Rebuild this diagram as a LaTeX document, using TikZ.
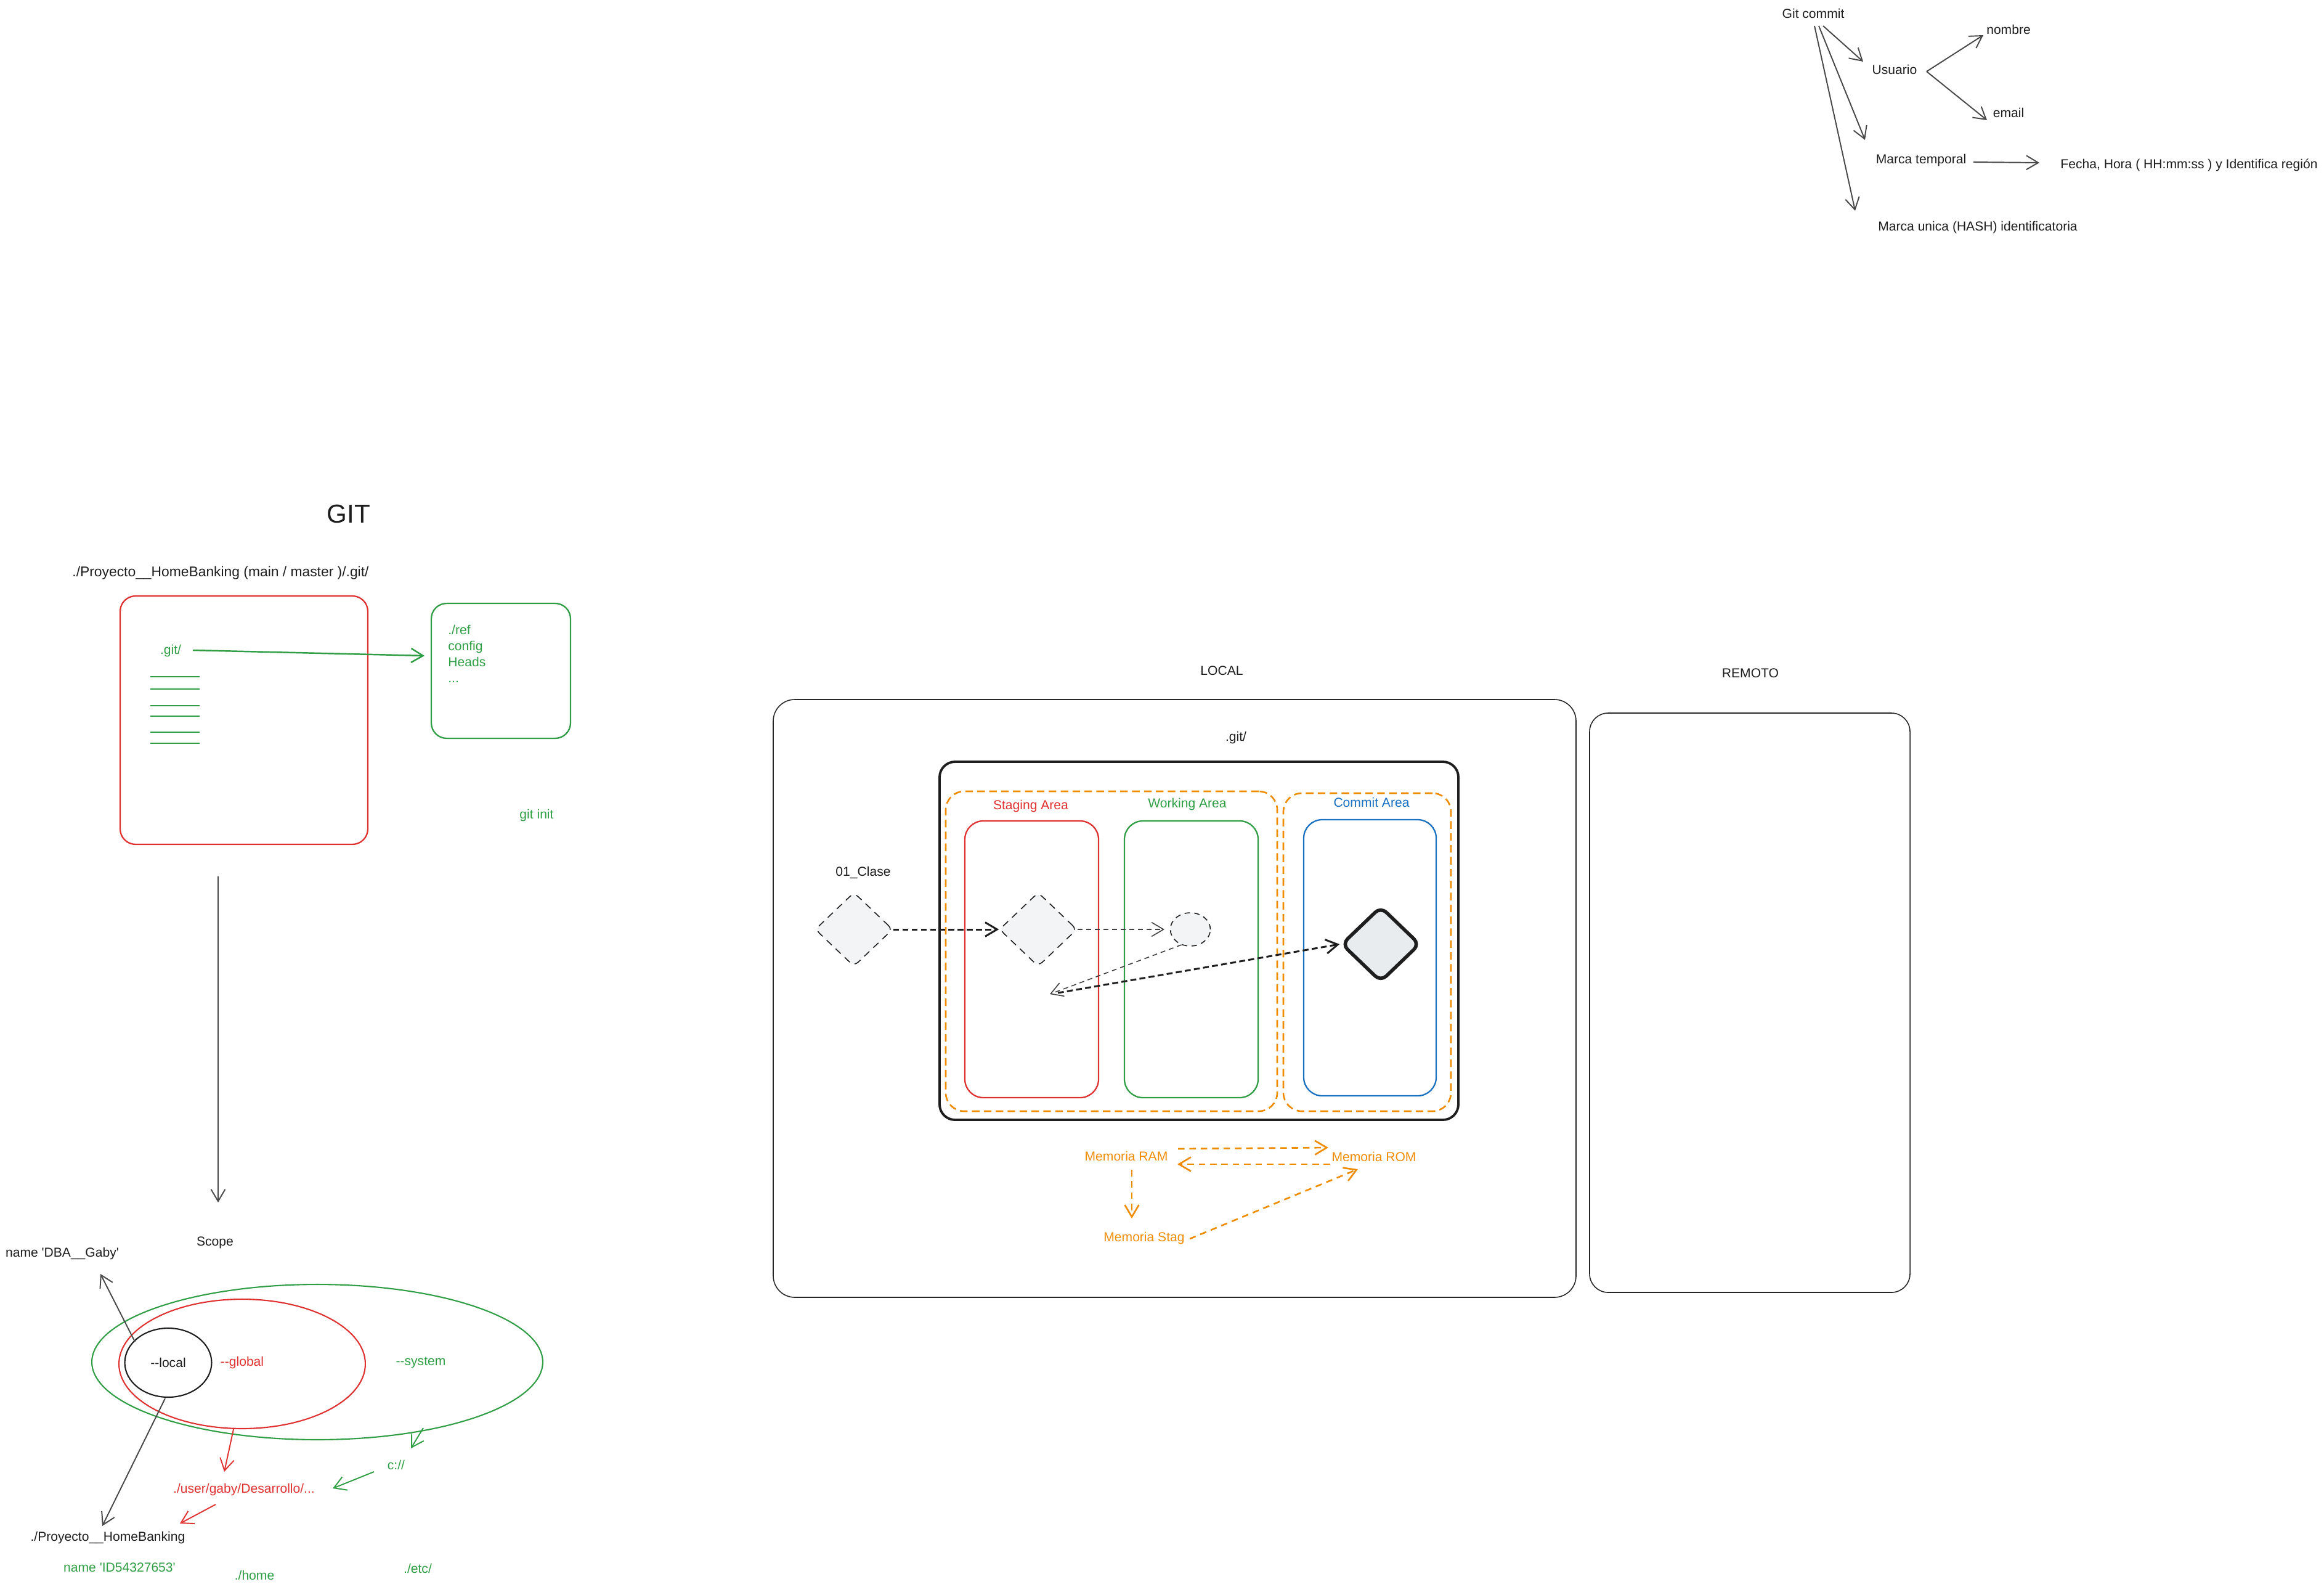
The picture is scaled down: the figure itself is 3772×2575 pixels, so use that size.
\documentclass[tikz,border=0pt]{standalone}
\usepackage{fontspec}
\setmainfont{Liberation Sans}
\usetikzlibrary{arrows.meta,shapes.geometric,fit}
\definecolor{exred}{HTML}{E03131}
\definecolor{exgreen}{HTML}{2F9E44}
\definecolor{exblue}{HTML}{1971C2}
\definecolor{exorange}{HTML}{F08C00}
\definecolor{exblack}{HTML}{1E1E1E}
\definecolor{exgray}{HTML}{E9ECEF}
\definecolor{exlight}{HTML}{F3F4F6}
\begin{document}
\begin{tikzpicture}[x=0.02cm,y=-0.02cm,
  txt/.style={font=\fontsize{12}{14.5}\selectfont, inner sep=0pt, text=exblack},
  arr/.style={draw=black!72, line width=1.1pt, -{Straight Barb[length=11pt,width=13pt]}},
  box/.style={draw, rounded corners=0.5cm, inner sep=0pt, line width=1.3pt},
  cbox/.style={draw, rounded corners=0.6cm, inner sep=0pt, line width=1.3pt},
  obox/.style={draw=exorange, rounded corners=0.6cm, inner sep=0pt, line width=1.5pt, dash pattern=on 7pt off 4pt},
  oarr/.style={draw=exorange, line width=1.5pt, dash pattern=on 6pt off 4.5pt, -{Straight Barb[length=11pt,width=13pt]}},
  kdash/.style={draw=exblack, line width=1.7pt, dash pattern=on 5.5pt off 3pt, -{Straight Barb[length=11pt,width=13pt]}},
  tdash/.style={draw=exblack!85, line width=0.9pt, dash pattern=on 4.5pt off 3.5pt, -{Straight Barb[length=11pt,width=13pt]}},
  ddia/.style={diamond, draw=exblack, line width=0.9pt, dash pattern=on 6.5pt off 5pt, fill=exlight, inner sep=0pt, rounded corners=5pt},
]
\useasboundingbox (0,0) rectangle (3772,2575);
\fill[white] (0,0) rectangle (3772,2575);

% ---------------- Git commit tree (top right)
\node[txt] (gc) at (2943,22) {Git commit};
\node[txt] (usr) at (3075,113) {Usuario};
\node[txt] (nom) at (3260,48) {nombre};
\node[txt] (eml) at (3260,183) {email};
\node[txt] (mt) at (3118,260) {Marca temporal};
\node[txt] (fh) at (3553,268) {Fecha, Hora ( HH:mm:ss ) y Identifica región};
\node[txt] (mu) at (3210,369) {Marca unica (HASH) identificatoria};
\coordinate (gc1) at (2959,42);
\coordinate (gc2) at (2952,42);
\coordinate (gc3) at (2945,42);
\coordinate (usrin) at (3024,100);
\coordinate (mtin) at (3027,227);
\coordinate (muin) at (3011,342);
\coordinate (usrout) at (3127,116);
\coordinate (nomin) at (3219,57);
\coordinate (emlin) at (3225,195);
\coordinate (mtout) at (3203,263);
\coordinate (fhin) at (3310,264);
\draw[arr] (gc1) -- (usrin);
\draw[arr] (gc2) -- (mtin);
\draw[arr] (gc3) -- (muin);
\draw[arr] (usrout) -- (nomin);
\draw[arr] (usrout) -- (emlin);
\draw[arr] (mtout) -- (fhin);

% ---------------- GIT section
\node[txt, font=\fontsize{24}{28}\selectfont] (title) at (566,834) {GIT};
\node[txt, font=\fontsize{13}{15.5}\selectfont] (path) at (358,930) {./Proyecto\_\_HomeBanking (main / master )/.git/};
\node[box, draw=exred, fit={(195,967) (597,1370)}] (redbox) {};
\node[txt, text=exgreen] (gitdir) at (277,1056) {.git/};
\node[box, draw=exgreen, fit={(700,979) (926,1198)}] (greenbox) {};
\node[txt, text=exgreen, anchor=north west, align=left, font=\fontsize{12}{14.7}\selectfont] (refs) at (727,1014) {./ref\\config\\Heads\\...};
\foreach \yy in {1098,1118,1145,1162,1188,1206}
  \draw[exgreen, line width=1.6pt] (244,\yy) -- (324,\yy);
\coordinate (gitdirout) at (313,1055);
\coordinate (greenin) at (689,1064);
\draw[arr, draw=exgreen, line width=1.4pt] (gitdirout) -- (greenin);
\node[txt, text=exgreen] (gitinit) at (871,1323) {git init};
\coordinate (redout) at (354,1422);
\coordinate (scopein) at (354,1951);
\draw[arr] (redout) -- (scopein);

% ---------------- Scope section
\node[txt] (scope) at (349,2016) {Scope};
\node[txt] (dba) at (101,2034) {name \textquotesingle DBA\_\_Gaby\textquotesingle};
\node[draw=exgreen, ellipse, line width=1.2pt, minimum width=14.64cm, minimum height=5.04cm, inner sep=0pt] (sys) at (515,2210) {};
\node[draw=exred, ellipse, line width=1.2pt, minimum width=8cm, minimum height=4.2cm, inner sep=0pt] (glob) at (393,2213) {};
\node[draw=exblack, ellipse, line width=1.2pt, minimum width=2.82cm, minimum height=2.24cm, inner sep=0pt] (loc) at (273,2211) {};
\node[txt] (loctxt) at (273,2211) {-{}-local};
\node[txt, text=exred] (globtxt) at (393,2211) {-{}-global};
\node[txt, text=exgreen] (systxt) at (683,2211) {-{}-system};
\node[txt] (proj) at (175,2495) {./Proyecto\_\_HomeBanking};
\node[txt, text=exred] (upath) at (396,2417) {./user/gaby/Desarrollo/...};
\node[txt, text=exgreen] (cdrive) at (643,2377) {c://};
\node[txt, text=exgreen] (idname) at (194,2543) {name \textquotesingle ID54327653\textquotesingle};
\node[txt, text=exgreen] (home) at (413,2556) {./home};
\node[txt, text=exgreen] (etc) at (678,2545) {./etc/};
\coordinate (locout1) at (219,2177);
\coordinate (dbain) at (163,2067);
\coordinate (locout2) at (268,2269);
\coordinate (projin) at (166,2476);
\coordinate (globout) at (379,2319);
\coordinate (upathin) at (364,2388);
\coordinate (upathout) at (350,2441);
\coordinate (projin2) at (292,2472);
\coordinate (sysout) at (687,2317);
\coordinate (cin) at (667,2350);
\coordinate (cout) at (607,2388);
\coordinate (upathin2) at (540,2415);
\draw[arr] (locout1) -- (dbain);
\draw[arr] (locout2) -- (projin);
\draw[arr, draw=exred] (globout) -- (upathin);
\draw[arr, draw=exred] (upathout) -- (projin2);
\draw[arr, draw=exgreen] (sysout) -- (cin);
\draw[arr, draw=exgreen] (cout) -- (upathin2);

% ---------------- LOCAL / REMOTO
\node[txt] (localt) at (1983,1088) {LOCAL};
\node[txt] (remt) at (2841,1092) {REMOTO};
\node[box, draw=black!85, line width=0.9pt, rounded corners=0.7cm, fit={(1255,1135) (2558,2105)}] (localbox) {};
\node[box, draw=black!85, line width=0.9pt, rounded corners=0.6cm, fit={(2580,1157) (3100,2097)}] (rembox) {};
\node[txt] (gitl) at (2006,1197) {.git/};
\node[box, draw=exblack, line width=2.2pt, fit={(1525,1236) (2367,1817)}] (gitbox) {};
\node[obox, fit={(1535,1284) (2073,1803)}] (or1) {};
\node[obox, fit={(2083,1287) (2355,1803)}] (or2) {};
\node[cbox, draw=exred, fit={(1566,1332) (1783,1781)}] (stagebox) {};
\node[cbox, draw=exgreen, fit={(1825,1332) (2042,1781)}] (workbox) {};
\node[cbox, draw=exblue, fit={(2116,1330) (2331,1778)}] (commitbox) {};
\node[txt, text=exred] (stagel) at (1673,1308) {Staging Area};
\node[txt, text=exgreen] (workl) at (1927,1305) {Working Area};
\node[txt, text=exblue] (commitl) at (2226,1302) {Commit Area};
\node[txt] (clase) at (1401,1416) {01\_Clase};
\node[ddia, minimum width=2.52cm, minimum height=2.4cm] (d1) at (1386,1508) {};
\node[ddia, minimum width=2.52cm, minimum height=2.4cm] (d2) at (1685,1508) {};
\node[ellipse, draw=exblack, line width=0.9pt, dash pattern=on 5pt off 4pt, fill=exlight, inner sep=0pt, minimum width=1.3cm, minimum height=1.08cm] (circ) at (1932,1508) {};
\node[diamond, draw=exblack, line width=3.2pt, fill=exgray, inner sep=0pt, rounded corners=7pt, minimum width=2.56cm, minimum height=2.46cm] (cd) at (2241,1532) {};
\coordinate (meet) at (1704,1613);
\coordinate (meet2) at (1717,1611);
\draw[kdash] (d1.east) -- (d2.west);
\draw[tdash, shorten >=5pt] (d2.east) -- (circ.west);
\draw[tdash] (circ.240) -- (meet);
\draw[kdash] (meet2) -- (cd.west);

% ---------------- Memoria
\node[txt, text=exorange] (ram) at (1828,1876) {Memoria RAM};
\node[txt, text=exorange] (rom) at (2230,1877) {Memoria ROM};
\node[txt, text=exorange] (stag) at (1857,2009) {Memoria Stag};
\coordinate (ramout) at (1912,1864);
\coordinate (romin) at (2156,1862);
\coordinate (romout) at (2159,1889);
\coordinate (ramin) at (1911,1889);
\coordinate (ramdown) at (1837,1898);
\coordinate (stagin) at (1837,1977);
\coordinate (stagout) at (1931,2010);
\coordinate (romin2) at (2204,1897);
\draw[oarr] (ramout) -- (romin);
\draw[oarr] (romout) -- (ramin);
\draw[oarr] (ramdown) -- (stagin);
\draw[oarr] (stagout) -- (romin2);
\end{tikzpicture}
\end{document}
